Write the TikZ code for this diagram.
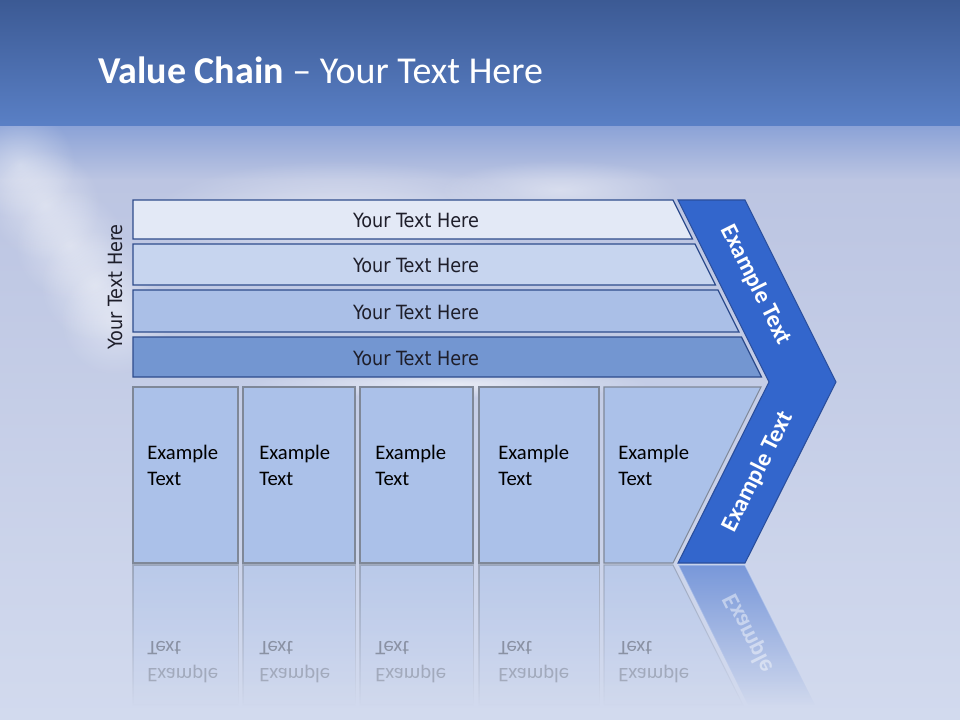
\documentclass[tikz,border=0pt]{standalone}
\usepackage{fontspec}
\setmainfont{Carlito}
\newfontfamily\barfont{DejaVu Sans Condensed}
\usetikzlibrary{fadings}

\definecolor{hdrtop}{HTML}{3C5A94}
\definecolor{hdrbot}{HTML}{5A80C6}
\definecolor{skyone}{HTML}{8CA3D7}
\definecolor{skytwo}{HTML}{BCC5E2}
\definecolor{skythree}{HTML}{C7CDE6}
\definecolor{skyfour}{HTML}{D2DAEE}
\definecolor{barone}{HTML}{E3E9F6}
\definecolor{bartwo}{HTML}{C7D5EF}
\definecolor{barthree}{HTML}{AABFE7}
\definecolor{barfour}{HTML}{7396D1}
\definecolor{barline}{HTML}{2E4C8C}
\definecolor{boxfill}{HTML}{ABC1E9}
\definecolor{boxline}{HTML}{7F8898}
\definecolor{chevfill}{HTML}{3366CC}
\definecolor{chevline}{HTML}{2A4E9C}
\definecolor{inktext}{HTML}{1E1E2A}

\tikzfading[name=reflfade, top color=transparent!45, bottom color=transparent!100]
\tikzfading[name=cloudfade, inner color=transparent!40, outer color=transparent!100]

\begin{document}
\begin{tikzpicture}[
        x=0.75pt, y=-0.75pt,
        bar/.style={draw=barline, line width=0.9pt},
        bartext/.style={text=inktext, font=\barfont\fontsize{14.7}{17}\selectfont, inner sep=0pt},
        actbox/.style={draw=boxline, fill=boxfill, line width=0.8pt},
        boxtext/.style={text=black, font=\fontsize{15.5}{19.5}\selectfont, align=left, inner sep=0pt},
        chevron/.style={draw=chevline, fill=chevfill, line width=0.8pt},
        chevtext/.style={text=white, font=\bfseries\fontsize{18}{21}\selectfont, inner sep=0pt},
        mirror/.style={yscale=-1, inner sep=0pt},
        cloud/.style={fill=white, path fading=cloudfade}
        ]
    \useasboundingbox (0,0) rectangle (960,720);

    % sky
    \fill[top color=hdrtop, bottom color=hdrbot] (0,0) rectangle (960,127);
    \fill[top color=skyone, bottom color=skytwo] (0,127) rectangle (960,180);
    \fill[top color=skytwo, middle color=skythree, bottom color=skyfour] (0,180) rectangle (960,720);
    \begin{scope}
        \clip (0,127) rectangle (960,720);
        \foreach \cx/\cy in {20/165, 45/205, 70/245, 95/285, 115/320}
            \fill[cloud, opacity=0.7] (\cx,\cy) circle [radius=55];
        \fill[cloud, opacity=0.8] (340,215) ellipse [x radius=190, y radius=55];
        \fill[cloud, opacity=0.7] (560,190) ellipse [x radius=120, y radius=30];
        \fill[cloud] (450,384) ellipse [x radius=200, y radius=14];
    \end{scope}

    \node[anchor=base west, text=white, font=\fontsize{28.5}{34}\selectfont, inner sep=0pt] (title) at (98,84)
        {\textbf{Value Chain} – Your Text Here};

    % reflection
    \foreach \xa/\xb/\tx in {133/238/147, 243/355/259, 360/473/375, 479/599/498} {
        \path[actbox, path fading=reflfade] (\xa,565) rectangle (\xb,705);
        \node[mirror, boxtext, anchor=west, opacity=0.3] at (\tx,648) {Text};
        \node[mirror, boxtext, anchor=west, opacity=0.2] at (\tx,674) {Example};
    }
    \path[actbox, path fading=reflfade] (604,565) -- (673,565) -- (743,705) -- (604,705) -- cycle;
    \node[mirror, boxtext, anchor=west, opacity=0.3] at (618,648) {Text};
    \node[mirror, boxtext, anchor=west, opacity=0.2] at (618,674) {Example};
    \path[fill=chevfill, draw=white!80!chevfill, line width=1pt, path fading=reflfade]
        (678,565) -- (745,565) -- (815,705) -- (748,705) -- cycle;
    \begin{scope}
        \clip (678,565) -- (745,565) -- (800,675) -- (733,675) -- cycle;
        \node[chevtext, rotate=-63.4, yscale=-1, opacity=0.45] (upperrefl) at (759,654) {Example Text};
    \end{scope}

    % stacked bars
    \foreach \ya/\yb/\shade [count=\i] in {200/239/barone, 244/285/bartwo, 290/332/barthree, 337/377/barfour} {
        \filldraw[bar, fill=\shade] (133,\ya) -- ({673+(\ya-200)/2},\ya) -- ({673+(\yb-200)/2},\yb) -- (133,\yb) -- cycle;
        \node[bartext] (bar\i) at (416,{(\ya+\yb)/2+1}) {Your Text Here};
    }
    \node[bartext, rotate=90] (side) at (115,287) {Your Text Here};

    % activity boxes
    \foreach \xa/\xb/\tx [count=\i] in {133/238/147, 243/355/259, 360/473/375, 479/599/498} {
        \filldraw[actbox] (\xa,387) rectangle (\xb,563);
        \node[boxtext, anchor=west] (act\i) at (\tx,465) {Example\\Text};
    }
    \filldraw[actbox] (604,387) -- (761,387) -- (673,563) -- (604,563) -- cycle;
    \node[boxtext, anchor=west] (act5) at (618,465) {Example\\Text};

    % margin chevron
    \filldraw[chevron] (678,200) -- (745,200) -- (836,382) -- (745,563) -- (678,563) -- (769,382) -- cycle;
    \node[chevtext, rotate=-63.4] (upper) at (756,285) {Example Text};
    \node[chevtext, rotate=63.4] (lower) at (758,472) {Example Text};
\end{tikzpicture}
\end{document}
